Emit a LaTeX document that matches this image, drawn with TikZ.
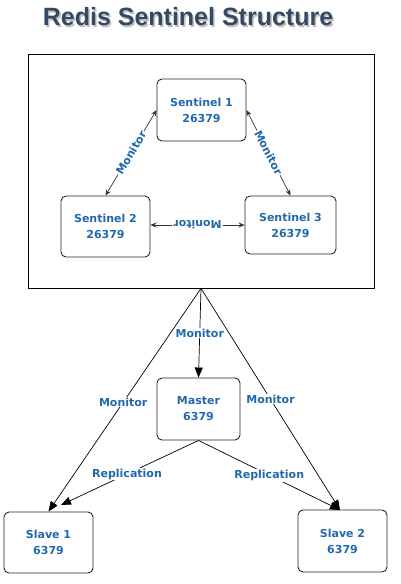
\documentclass[tikz,border=0pt]{standalone}
\usepackage{fontspec}
\setmainfont{DejaVu Sans}
\newfontfamily\titlefont{Liberation Sans}
\usetikzlibrary{arrows.meta}
\definecolor{txtblue}{RGB}{35,105,170}
\definecolor{titleblue}{RGB}{52,73,98}
\begin{document}
\begin{tikzpicture}[x=1pt,y=-1pt,
  box/.style={draw=black!85, line width=0.9pt, rounded corners=5pt,
    font=\bfseries\fontsize{11}{16}\selectfont, text=txtblue, align=center, inner sep=0pt},
  lbl/.style={fill=white, inner sep=1pt, font=\bfseries\fontsize{11}{13}\selectfont, text=txtblue},
  dbl/.style={draw=black!80, line width=0.7pt, {Stealth[length=6pt,width=5pt]}-{Stealth[length=6pt,width=5pt]}},
  bigarr/.style={draw=black, line width=0.7pt, -{Triangle[length=10pt,width=8pt]}},
  titlestyle/.style={font=\titlefont\bfseries\fontsize{25}{28}\selectfont, anchor=base, inner sep=0pt}]
\useasboundingbox (0,0) rectangle (400,584);
% title
\node[titlestyle, text=black!25] (titleshadow) at (189.5,27) {Redis Sentinel Structure};
\node[titlestyle, text=titleblue] (title) at (188,25) {Redis Sentinel Structure};
% frame
\node[draw=black, line width=0.8pt, minimum width=346pt, minimum height=234pt, inner sep=0pt] (frame) at (201,171) {};
% sentinels
\node[box, minimum width=89pt, minimum height=62pt] (s1) at (201.5,110) {Sentinel 1\\26379};
\node[box, minimum width=89pt, minimum height=61pt] (s2) at (105.5,226.5) {Sentinel 2\\26379};
\node[box, minimum width=91pt, minimum height=58pt] (s3) at (290.5,225) {Sentinel 3\\26379};
% master and slaves
\node[box, minimum width=83pt, minimum height=62pt] (master) at (198.5,409) {Master\\6379};
\node[box, minimum width=89pt, minimum height=61pt] (slave1) at (48.5,542.5) {Slave 1\\6379};
\node[box, minimum width=89pt, minimum height=62pt] (slave2) at (342.5,541) {Slave 2\\6379};
\coordinate (r1end) at (61,505);
\coordinate (s2top) at (340,510);
% sentinel monitor links
\draw[dbl] (s1.west) -- node[lbl, sloped] {Monitor} (s2.north);
\draw[dbl] (s1.east) -- node[lbl, sloped] {Monitor} (s3.north);
\draw[dbl] (s2.east |- s3.west) -- node[lbl, rotate=180] {Monitor} (s3.west);
% monitor arrows
\draw[bigarr] (frame.south) -- node[lbl, pos=0.5] {Monitor} (master.north);
\draw[bigarr] (frame.south) -- node[lbl, pos=0.51] {Monitor} (slave1.north);
\draw[bigarr] (frame.south) -- node[lbl, pos=0.5] {Monitor} (s2top);
% replication
\draw[bigarr] (master.south) -- node[lbl, pos=0.52] {Replication} (r1end);
\draw[bigarr] (master.south) -- node[lbl, pos=0.5] {Replication} (s2top);
\end{tikzpicture}
\end{document}
